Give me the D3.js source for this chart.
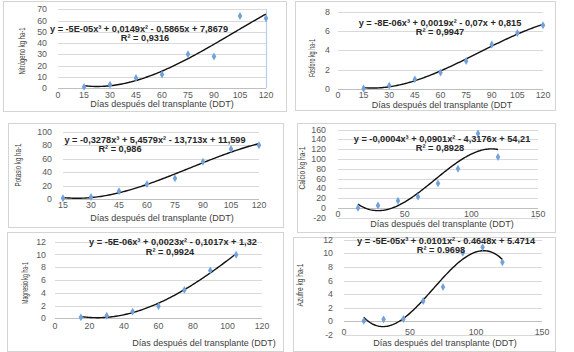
<!DOCTYPE html>
<html>
<head>
<meta charset="utf-8">
<style>
  body{margin:0;background:#fff}
  svg text{font-family:"Liberation Sans",Arial,sans-serif}
  .frame{fill:#fff;stroke:#d4d4d4;stroke-width:1px}
  .grid line{stroke:#d9d9d9;stroke-width:1px}
  .tick{fill:#595959;font-size:8.8px}
  .eq{fill:#262626;font-size:9.2px;font-weight:bold}
  .xtitle{fill:#404040;font-size:9px}
  .ytitle{fill:#404040;font-size:8.5px}
  .trend{fill:none;stroke:#111;stroke-width:1.4px}
  .pt{fill:#73a2da}
</style>
</head>
<body>
<div id="chart"></div>
<script src="https://d3js.org/d3.v7.min.js"></script>
<script>
// ---- values ----
var ddt      = [15, 30, 45, 60, 75, 90, 105, 120],
    ddtMg    = [15, 30, 45, 60, 75, 90, 105];

var nitrogeno = [1, 3, 9, 12, 30, 28, 64, 62],
    fosforo   = [0.05, 0.35, 1.0, 1.7, 2.9, 4.6, 5.8, 6.6],
    potasio   = [1.5, 3.5, 12, 22.5, 31, 55.5, 74.5, 80],
    calcio    = [0, 5, 14.5, 23, 50, 80, 152, 104],
    magnesio  = [0.15, 0.4, 1.05, 1.9, 4.45, 7.5, 9.95],
    azufre    = [0.07, 0.3, 0.35, 3.0, 5.05, 10.1, 10.9, 8.7];

var xTicksDdt = [0, 15, 30, 45, 60, 75, 90, 105, 120],
    xTicks150 = [0, 50, 100, 150],
    xTicks120 = [0, 20, 40, 60, 80, 100, 120];

var yTicksN  = [0, 10, 20, 30, 40, 50, 60, 70],
    yTicksP  = [0, 2, 4, 6, 8],
    yTicksK  = [0, 20, 40, 60, 80, 100],
    yTicksCa = [-20, 0, 20, 40, 60, 80, 100, 120, 140, 160],
    yTicksMg = [0, 2, 4, 6, 8, 10, 12],
    yTicksS  = [-2, 0, 2, 4, 6, 8, 10, 12];

var xTitle = 'Días después del transplante (DDT)';

// least squares cubic (what the spreadsheet trendline does)
function cubicFit(xs, ys, s) {
  var A = [[0,0,0,0],[0,0,0,0],[0,0,0,0],[0,0,0,0]], b = [0,0,0,0], i, j, k;
  xs.forEach(function (x, n) {
    var t = x / s, p = [1, t, t * t, t * t * t];
    for (i = 0; i < 4; i++) {
      b[i] += p[i] * ys[n];
      for (j = 0; j < 4; j++) A[i][j] += p[i] * p[j];
    }
  });
  for (i = 0; i < 4; i++) {
    for (k = i + 1; k < 4; k++) {
      var f = A[k][i] / A[i][i];
      for (j = i; j < 4; j++) A[k][j] -= f * A[i][j];
      b[k] -= f * b[i];
    }
  }
  var c = [0,0,0,0];
  for (i = 3; i >= 0; i--) {
    var sum = b[i];
    for (j = i + 1; j < 4; j++) sum -= A[i][j] * c[j];
    c[i] = sum / A[i][i];
  }
  return function (x) { var t = x / s; return c[0] + c[1]*t + c[2]*t*t + c[3]*t*t*t; };
}

var panels = [
  { frame: [3, 1, 283, 110], xd: [0, 120], xr: [58, 266], yd: [0, 70], yr: [88, 9.3],
    x: ddt, y: nitrogeno, xt: xTicksDdt, yt: yTicksN, ylab: 47, xlab: 97.5,
    title: 'Nitrógeno kg ha-1', tlen: 47, tpos: [22, 51],
    eq: 'y = -5E-05x³ + 0,0149x² - 0,5865x + 7,8679', eqPos: [139, 32],
    r2: 'R² = 0,9316', r2Pos: [145, 41], xtitle: xTitle, xtPos: [162, 107], blue: true },
  { frame: [295, 1, 260, 109], xd: [0, 120], xr: [338, 543], yd: [0, 8], yr: [89, 11.7],
    x: ddt, y: fosforo, xt: xTicksDdt, yt: yTicksP, ylab: 330, xlab: 98,
    title: 'Fósforo kg ha-1', tlen: 38, tpos: [312, 58],
    eq: 'y = -8E-06x³ + 0,0019x² - 0,07x + 0,815', eqPos: [440, 26],
    r2: 'R² = 0,9947', r2Pos: [440, 35], xtitle: 'Días después del transplante (DDT', xtPos: [442, 107.5] },
  { frame: [8, 123, 275, 104], cat: true, xr: [63, 259], yd: [0, 100], yr: [199.3, 131.7],
    x: ddt, y: potasio, xt: ddt, yt: yTicksK, ylab: 52, xlab: 208,
    title: 'Potasio kg ha-1', tlen: 43, tpos: [18, 165],
    eq: 'y = -0,3278x³ + 5,4579x² - 13,713x + 11,599', eqPos: [155, 142.5],
    r2: 'R² = 0,986', r2Pos: [120, 151.5], xtitle: xTitle, xtPos: [162, 221] },
  { frame: [297, 123, 258, 109], xd: [0, 150], xr: [338, 538], yd: [-20, 160], yr: [217.7, 129.5],
    x: ddt, y: calcio, xt: xTicks150, yt: yTicksCa, ylab: 326, xlab: 217,
    title: 'Calcio kg ha-1', tlen: 43, tpos: [302, 168],
    eq: 'y = -0,0004x³ + 0,0901x² - 4,3176x + 54,21', eqPos: [442, 142],
    r2: 'R² = 0,8928', r2Pos: [440, 151], xtitle: xTitle, xtPos: [442, 227] },
  { frame: [7, 232, 276, 119], xd: [0, 120], xr: [55, 262], yd: [0, 12], yr: [318.3, 241.7],
    x: ddtMg, y: magnesio, xt: xTicks120, yt: yTicksMg, ylab: 46, xlab: 329,
    title: 'Magnesio kg ha-1', tlen: 42, tpos: [25, 283],
    eq: 'y = -5E-06x³ + 0,0023x² - 0,1017x + 1,32', eqPos: [173, 245],
    r2: 'R² = 0,9924', r2Pos: [170, 255], xtitle: xTitle, xtPos: [204, 346] },
  { frame: [293, 237, 262, 114], xd: [0, 150], xr: [344, 542], yd: [-2, 12], yr: [335, 239.8],
    x: ddt, y: azufre, xt: xTicks150, yt: yTicksS, ylab: 333, xlab: 335,
    title: 'Azufre kg ha-1', tlen: 43, tpos: [300, 285],
    eq: 'y = -5E-05x³ + 0.0101x² - 0.4648x + 5.4714', eqPos: [446, 244],
    r2: 'R² = 0.9698', r2Pos: [441, 253], xtitle: xTitle, xtPos: [445, 345.5] }
];

var svg = d3.select('#chart').append('svg')
  .attr('width', 574)
  .attr('height', 352);

svg.append('rect').attr('width', 574).attr('height', 352).attr('fill', '#fff');

var diamond = d3.symbol().type(d3.symbolDiamond).size(18);

panels.forEach(function (p) {
  var g = svg.append('g');
  var xScale, xPos, fit, idxScale;

  if (p.cat) {
    // category axis, trendline fitted on category index 1..n
    xScale = d3.scalePoint().domain(p.x).range(p.xr);
    var idx = p.x.map(function (d, i) { return i + 1; });
    fit = cubicFit(idx, p.y, 1);
    idxScale = d3.scaleLinear().domain([1, p.x.length]).range(p.xr);
  } else {
    xScale = d3.scaleLinear().domain(p.xd).range(p.xr);
    fit = cubicFit(p.x, p.y, 100);
  }
  xPos = function (d, i) { return xScale(p.x[i]); };
  var yScale = d3.scaleLinear().domain(p.yd).range(p.yr);

  g.append('rect').attr('class', 'frame')
    .attr('x', p.frame[0] + 0.5).attr('y', p.frame[1] + 0.5)
    .attr('width', p.frame[2]).attr('height', p.frame[3]);

  // gridlines
  g.append('g').attr('class', 'grid').selectAll('line')
    .data(p.yt).enter().append('line')
    .attr('x1', p.xr[0]).attr('x2', p.xr[1])
    .attr('y1', function (d) { return Math.round(yScale(d)) + 0.5; })
    .attr('y2', function (d) { return Math.round(yScale(d)) + 0.5; })
    .style('stroke', function (d) { return d === 0 ? '#bfbfbf' : null; });

  if (p.blue) {
    g.append('line')
      .attr('x1', p.xr[1] + 0.5).attr('x2', p.xr[1] + 0.5)
      .attr('y1', p.yr[1]).attr('y2', p.yr[0])
      .style('stroke', '#b4d1ec').style('stroke-width', '1.2px');
  }

  // y tick labels
  g.selectAll('.yt').data(p.yt).enter().append('text')
    .attr('class', 'tick')
    .attr('x', p.ylab)
    .attr('y', function (d) { return yScale(d); })
    .attr('dy', '0.35em')
    .attr('text-anchor', 'end')
    .text(function (d) { return d; });

  // x tick labels
  g.selectAll('.xt').data(p.xt).enter().append('text')
    .attr('class', 'tick')
    .attr('x', function (d) { return xScale(d); })
    .attr('y', p.xlab)
    .attr('text-anchor', 'middle')
    .text(function (d) { return d; });

  // trendline
  var x0 = p.cat ? 1 : p.x[0], x1 = p.cat ? p.x.length : p.x[p.x.length - 1];
  var samples = d3.range(0, 121).map(function (k) { return x0 + (x1 - x0) * k / 120; });
  var line = d3.line()
    .x(function (d) { return p.cat ? idxScale(d) : xScale(d); })
    .y(function (d) { return yScale(fit(d)); });
  g.append('path').attr('class', 'trend').attr('d', line(samples));

  // points
  g.selectAll('.pt').data(p.y).enter().append('path')
    .attr('class', 'pt')
    .attr('d', diamond)
    .attr('transform', function (d, i) {
      return 'translate(' + xPos(d, i) + ',' + yScale(d) + ')';
    });

  // equation + R²
  g.append('text').attr('class', 'eq')
    .attr('x', p.eqPos[0]).attr('y', p.eqPos[1])
    .attr('text-anchor', 'middle').text(p.eq);
  g.append('text').attr('class', 'eq')
    .attr('x', p.r2Pos[0]).attr('y', p.r2Pos[1])
    .attr('text-anchor', 'middle').text(p.r2);

  // axis titles
  g.append('text').attr('class', 'xtitle')
    .attr('x', p.xtPos[0]).attr('y', p.xtPos[1])
    .attr('text-anchor', 'middle').text(p.xtitle);

  g.append('text').attr('class', 'ytitle')
    .attr('transform', 'translate(' + (p.tpos[0] + 3) + ',' + p.tpos[1] + ') rotate(-90)')
    .attr('text-anchor', 'middle')
    .attr('textLength', p.tlen)
    .attr('lengthAdjust', 'spacingAndGlyphs')
    .text(p.title);
});
</script>
</body>
</html>
